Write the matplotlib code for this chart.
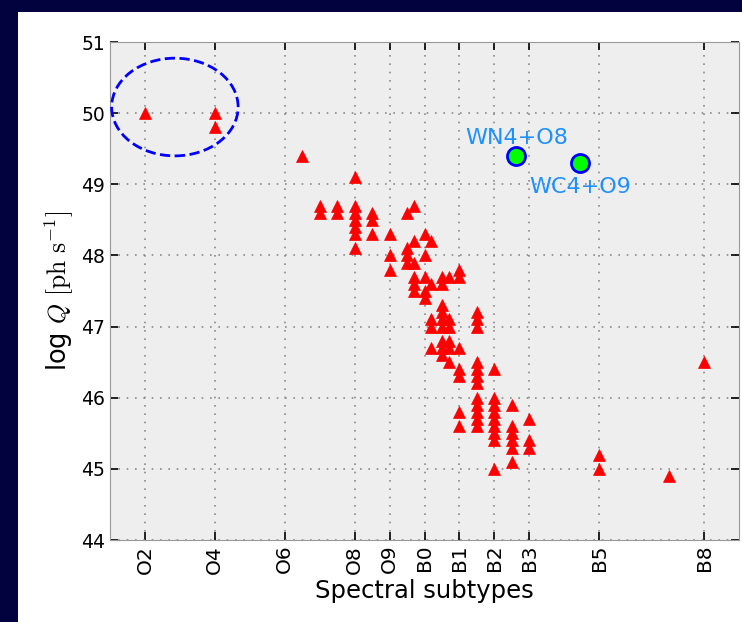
import matplotlib
matplotlib.use('Agg')
import matplotlib.pyplot as plt
from matplotlib.patches import Ellipse, Rectangle

plt.rcParams['mathtext.fontset'] = 'cm'

# spectral subtype positions (O2=2 ... B0=10 ... B8=18) and log Q values
spt = [2,
       4, 4,
       6.5,
       7, 7,
       7.5, 7.5,
       8, 8, 8, 8, 8, 8, 8,
       8.5, 8.5, 8.5,
       9, 9, 9,
       9.5, 9.5, 9.5, 9.5,
       9.7, 9.7, 9.7, 9.7, 9.7, 9.7,
       10, 10, 10, 10, 10,
       10.2, 10.2, 10.2, 10.2, 10.2,
       10.5, 10.5, 10.5, 10.5, 10.5, 10.5, 10.5, 10.5, 10.5,
       10.7, 10.7, 10.7, 10.7, 10.7, 10.7,
       11, 11, 11, 11, 11, 11, 11,
       11.5, 11.5, 11.5, 11.5, 11.5, 11.5, 11.5, 11.5, 11.5, 11.5, 11.5, 11.5,
       12, 12, 12, 12, 12, 12, 12, 12, 12,
       12.5, 12.5, 12.5, 12.5, 12.5, 12.5,
       13, 13, 13,
       15, 15,
       17,
       18]
logq = [50.0,
        50.0, 49.8,
        49.4,
        48.7, 48.6,
        48.7, 48.6,
        49.1, 48.7, 48.6, 48.5, 48.4, 48.3, 48.1,
        48.6, 48.5, 48.3,
        48.3, 48.0, 47.8,
        48.6, 48.1, 48.0, 47.9,
        48.7, 48.2, 47.9, 47.7, 47.6, 47.5,
        48.3, 48.0, 47.7, 47.5, 47.4,
        48.2, 47.6, 47.1, 47.0, 46.7,
        47.7, 47.6, 47.3, 47.2, 47.1, 47.0, 46.8, 46.7, 46.6,
        47.7, 47.1, 47.0, 46.8, 46.7, 46.5,
        47.8, 47.7, 46.7, 46.4, 46.3, 45.8, 45.6,
        47.2, 47.1, 47.0, 46.5, 46.4, 46.3, 46.2, 46.0, 45.9, 45.8, 45.7, 45.6,
        46.4, 46.0, 45.9, 45.8, 45.7, 45.6, 45.5, 45.4, 45.0,
        45.9, 45.6, 45.5, 45.4, 45.3, 45.1,
        45.7, 45.4, 45.3,
        45.2, 45.0,
        44.9,
        46.5]

# Wolf-Rayet binaries
wr_names = ['WN4+O8', 'WC4+O9']
wr_x = [12.63, 14.46]
wr_y = [49.4, 49.3]
wr_lab_x = [12.63, 14.46]
wr_lab_y = [49.566, 48.882]

tick_pos = [2, 4, 6, 8, 9, 10, 11, 12, 13, 15, 18]
tick_lab = ['O2', 'O4', 'O6', 'O8', 'O9', 'B0', 'B1', 'B2', 'B3', 'B5', 'B8']

fig = plt.figure(figsize=(7.42, 6.22), dpi=100, facecolor='#02023f')
fig.patches.append(Rectangle((18/742, 0), 1 - 18/742, 1 - 12/622,
                             transform=fig.transFigure, facecolor='white',
                             edgecolor='none', zorder=-5))

ax = fig.add_axes([110/742, 1 - 540/622, 629/742, 498/622])
ax.set_facecolor('#eeeeee')

ax.plot(spt, logq, '^', color='red', mec='red', ms=8.5, mew=0.5, zorder=3)
ax.plot(wr_x, wr_y, 'o', color='#00ff00', mec='blue', ms=13, mew=2, zorder=4)
for n, tx, ty in zip(wr_names, wr_lab_x, wr_lab_y):
    ax.text(tx, ty, n, color='#1e90ff', fontsize=16, ha='center',
            va='baseline', zorder=5)

ax.add_patch(Ellipse((2.857, 50.086), 3.62, 1.373, fill=False,
                     edgecolor='blue', linestyle='--', lw=2, zorder=4))

ax.set_xlim(1, 19)
ax.set_ylim(44, 51)
ax.set_xticks(tick_pos)
ax.set_xticklabels(tick_lab, rotation=90, fontsize=14.5)
ax.set_yticks(range(44, 52))
ax.tick_params(axis='y', labelsize=13.5)
ax.tick_params(direction='in', length=6, width=1.2, top=True, right=True)
ax.grid(True, linestyle=(0, (1, 4)), color='#8a8a8a', lw=1.2)
ax.set_axisbelow(True)
for s in ax.spines.values():
    s.set_color('#999999')

ax.set_xlabel('Spectral subtypes', fontsize=17.5, labelpad=4)
ax.set_ylabel(r'log $Q\ [\mathrm{ph\ s^{-1}}]$', fontsize=18.5)

fig.savefig('out.png', dpi=100, facecolor=fig.get_facecolor())
